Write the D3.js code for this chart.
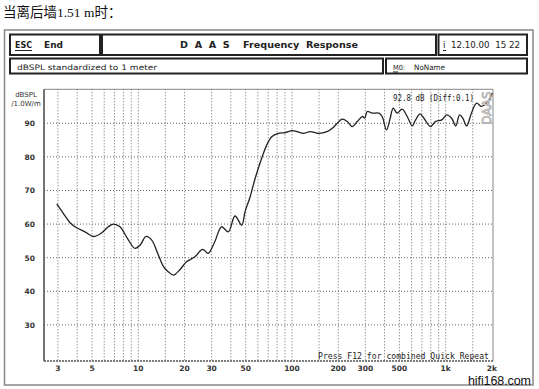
<!DOCTYPE html>
<html><head><meta charset="utf-8">
<script src="https://cdn.jsdelivr.net/npm/d3@7"></script>
<style>body{margin:0;background:#fff;}svg{display:block;}text{white-space:pre;}</style>
</head><body>
<script>
// ---- data ----
const freqs = [2.95,3.25,3.6,3.97,4.5,5.1,5.78,6.38,6.88,7.6,8.48,9.5,10.3,11.2,12.2,13.5,14.7,15.7,16.9,18.7,20.6,23.4,26.2,28.5,31.5,34.8,38.5,42.6,47.1,49.5,53.3,57.5,63.5,68.5,73.8,81.6,90.5,100,108,119,131,149,169,183,197,212,229,247,266,287,297,309,333,367,386,412,433,456,483,521,562,606,637,680,722,797,858,944,1016,1094,1162,1232,1292,1370,1470,1590,1710,1840,1950,2010];
const spl = [66.0,63.2,60.4,58.9,57.7,56.3,57.4,59.2,60.0,59.2,55.8,52.8,53.8,56.3,55.3,50.8,47.1,45.8,44.8,46.5,48.8,50.3,52.5,51.3,54.8,59.2,57.7,62.4,59.7,63.7,68.0,73.5,79.6,83.5,86.0,87.0,87.2,87.8,87.5,87.0,87.5,87.0,87.5,88.5,90.0,91.2,90.5,89.0,90.5,92.0,91.5,93.5,93.0,93.0,92.0,88.0,91.0,94.5,93.0,94.2,92.0,89.2,91.0,92.8,91.5,89.0,90.5,91.0,92.5,91.5,89.2,92.5,91.5,89.2,93.0,96.0,95.0,96.0,97.5,99.0];
const xTickVals = [3,5,10,20,30,50,100,200,300,500,1000,2000];
const xTickLabels = ["3","5","10","20","30","50","100","200","300","500","1k","2k"];
const xGridVals = [3,4,5,6,7,8,9,10,15,20,30,40,50,60,70,80,90,100,150,200,300,400,500,600,700,800,900,1000,1500];
const yTickVals = [30,40,50,60,70,80,90];

const W = 539, H = 389;
const svg = d3.select("body").append("svg").attr("width", W).attr("height", H);
svg.append("rect").attr("width", W).attr("height", H).attr("fill", "#fff");

// title
svg.append("text").attr("x", 3).attr("y", 17)
  .style("font-family", "'Liberation Serif','Noto Sans CJK SC',serif").style("font-size", "13.5px").attr("fill", "#111")
  .text("当离后墙1.51 m时：");

// outer frame
svg.append("rect").attr("x", 4.5).attr("y", 30).attr("width", 528.5).attr("height", 355)
  .attr("fill", "none").attr("stroke", "#888").attr("stroke-width", 1.5);

// header boxes
const boxes = [[10,34.5,90,20.5],[102,34.5,334,20.5],[438.5,34.5,88.5,20.5],[10,58.5,373,15],[386,58.5,141,15]];
boxes.forEach(b => svg.append("rect").attr("x", b[0]).attr("y", b[1]).attr("width", b[2]).attr("height", b[3])
  .attr("fill", "none").attr("stroke", "#222").attr("stroke-width", 2));

const hdrFont = "'DejaVu Sans',sans-serif";
function txt(x, y, s, size, weight, len, anchor) {
  const t = svg.append("text").attr("x", x).attr("y", y).text(s)
    .style("font-family", hdrFont).style("font-size", size + "px").style("font-weight", weight || "normal")
    .attr("fill", "#222").attr("text-anchor", anchor || "start");
  if (len) t.attr("textLength", len).attr("lengthAdjust", "spacingAndGlyphs");
  return t;
}
txt(15, 48, "ESC", 9, "bold", 17);
svg.append("line").attr("x1", 15).attr("x2", 32).attr("y1", 50.5).attr("y2", 50.5).attr("stroke", "#222");
txt(44, 48, "End", 9, "bold", 19);
txt(180, 48, "D  A  A  S    Frequency  Response", 9, "bold", 178);
txt(443, 48, "i", 9, "normal");
svg.append("line").attr("x1", 443).attr("x2", 446).attr("y1", 50.5).attr("y2", 50.5).attr("stroke", "#222");
txt(451, 48, "12.10.00  15 22", 8.5, "normal", 69);
txt(17, 69.5, "dBSPL standardized to 1 meter", 7.5, "normal", 140);
txt(393, 69.5, "M0:", 7, "normal", 12);
svg.append("line").attr("x1", 393).attr("x2", 398).attr("y1", 72).attr("y2", 72).attr("stroke", "#222");
txt(414, 69.5, "NoName", 7.5, "normal", 31);

// scales
const x = d3.scaleLog().domain([2.435, 2032]).range([44, 493]);
const y = d3.scaleLinear().domain([19.35, 100.1]).range([360.7, 89.3]);

const g = svg.append("g");
// grid
g.selectAll(".vg").data(xGridVals).join("line")
  .attr("x1", d => x(d)).attr("x2", d => x(d)).attr("y1", 89.3).attr("y2", 360.7)
  .attr("stroke", "#666").attr("stroke-width", 1).attr("stroke-dasharray", "1,2");
g.selectAll(".hg").data(yTickVals).join("line")
  .attr("x1", 44).attr("x2", 493).attr("y1", d => y(d)).attr("y2", d => y(d))
  .attr("stroke", "#666").attr("stroke-width", 1).attr("stroke-dasharray", "1,2");

// plot border
g.append("line").attr("x1", 44).attr("x2", 493).attr("y1", 89.3).attr("y2", 89.3).attr("stroke", "#888").attr("stroke-width", 1);
g.append("line").attr("x1", 493).attr("x2", 493).attr("y1", 89.3).attr("y2", 360.7).attr("stroke", "#888").attr("stroke-width", 1);
g.append("line").attr("x1", 44).attr("x2", 44).attr("y1", 89.3).attr("y2", 361).attr("stroke", "#444").attr("stroke-width", 1.5);
g.append("line").attr("x1", 44).attr("x2", 493).attr("y1", 361).attr("y2", 361).attr("stroke", "#555").attr("stroke-width", 1.6).attr("stroke-dasharray", "2,1");

// axis labels
const axFont = "'DejaVu Sans',sans-serif";
svg.selectAll(".yl").data(yTickVals).join("text")
  .attr("x", 35).attr("y", d => y(d) + 3).attr("text-anchor", "end")
  .style("font-family", axFont).style("font-size", "7.5px").style("font-weight", "bold").attr("fill", "#333")
  .text(d => d);
svg.selectAll(".xl").data(xTickVals).join("text")
  .attr("x", d => x(d)).attr("y", 370.5).attr("text-anchor", "middle")
  .style("font-family", axFont).style("font-size", "7.5px").style("font-weight", "bold").attr("fill", "#333")
  .text((d, i) => xTickLabels[i]);
svg.append("text").attr("x", 26).attr("y", 97).attr("text-anchor", "middle")
  .style("font-family", axFont).style("font-size", "7px").attr("fill", "#333").text("dBSPL");
svg.append("text").attr("x", 26).attr("y", 106).attr("text-anchor", "middle")
  .style("font-family", axFont).style("font-size", "7px").attr("fill", "#333").text("/1.0W/m");

// DAAS watermark
svg.append("text").attr("transform", "translate(491,108) rotate(-90)").attr("text-anchor", "middle")
  .style("font-family", axFont).style("font-size", "12px").attr("fill", "#fff").attr("stroke", "#aaa").attr("stroke-width", 0.8)
  .text("DAAS");

// curve
const line = d3.line().x((d, i) => x(freqs[i])).y(d => y(d)).curve(d3.curveCatmullRom.alpha(0.5));
g.append("path").attr("d", line(spl)).attr("fill", "none").attr("stroke", "#222").attr("stroke-width", 1.3);

// annotation
svg.append("text").attr("x", 393).attr("y", 101)
  .style("font-family", "'DejaVu Sans Mono',monospace").style("font-size", "8px").attr("fill", "#222")
  .attr("textLength", 81).attr("lengthAdjust", "spacingAndGlyphs").text("92.8 dB (Diff:0.1)");

svg.append("text").attr("x", 318).attr("y", 359)
  .style("font-family", "'DejaVu Sans Mono',monospace").style("font-size", "8px").attr("fill", "#222")
  .attr("textLength", 171).attr("lengthAdjust", "spacingAndGlyphs").text("Press F12 for combined Quick Repeat");

// site watermark
svg.append("text").attr("x", 531).attr("y", 384.5).attr("text-anchor", "end")
  .style("font-family", "'Liberation Sans',sans-serif").style("font-size", "12.5px").attr("fill", "#111")
  .attr("textLength", 63).text("hifi168.com");
</script>
</body></html>
